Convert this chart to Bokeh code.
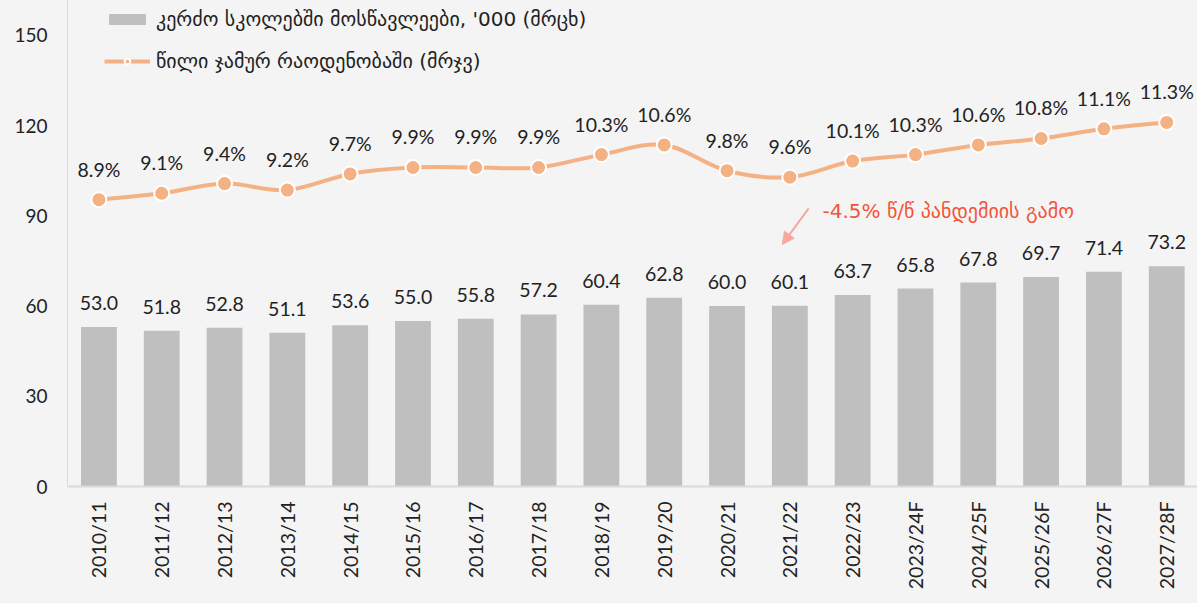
import math
from bokeh.plotting import figure
from bokeh.models import (ColumnDataSource, Range1d, FixedTicker, Legend, LegendItem,
                          Arrow, NormalHead, Label)
from bokeh.core.properties import value
from bokeh.embed import file_html
from bokeh.resources import INLINE

categories = ["2010/11", "2011/12", "2012/13", "2013/14", "2014/15", "2015/16", "2016/17",
              "2017/18", "2018/19", "2019/20", "2020/21", "2021/22", "2022/23", "2023/24F",
              "2024/25F", "2025/26F", "2026/27F", "2027/28F"]
students = [53.0, 51.8, 52.8, 51.1, 53.6, 55.0, 55.8, 57.2, 60.4, 62.8, 60.0, 60.1, 63.7,
            65.8, 67.8, 69.7, 71.4, 73.2]
share_pct = [8.9, 9.1, 9.4, 9.2, 9.7, 9.9, 9.9, 9.9, 10.3, 10.6, 9.8, 9.6, 10.1, 10.3,
             10.6, 10.8, 11.1, 11.3]
y_ticks = [0, 30, 60, 90, 120, 150]
bar_legend = "კერძო სკოლებში მოსწავლეები, '000 (მრცხ)"
line_legend = "წილი ჯამურ რაოდენობაში (მრჯვ)"
note_text = "-4.5% წ/წ პანდემიის გამო"

FONT_S = "Lato, DejaVu Sans"
GEO_S = "DejaVu Sans"
FONT = value(FONT_S)
BG = "#f4f4f4"
ORANGE = "#f4b183"
TXT = "#222222"

x = list(range(len(categories)))
src = ColumnDataSource(dict(
    x=x, students=students, share=share_pct,
    slab=[f"{v:.1f}" for v in students],
    plab=[f"{v:.1f}%" for v in share_pct],
))

Y_END = 161.6
PCT_END = Y_END / (150.0 / 14.0)

p = figure(width=1197, height=595, output_backend="svg", toolbar_location=None,
           x_range=Range1d(-0.5, 17.49), y_range=Range1d(0, Y_END),
           background_fill_color=BG, border_fill_color=BG, outline_line_color=None,
           min_border_left=67, min_border_right=0, min_border_top=0, min_border_bottom=109)
p.extra_y_ranges = {"pct": Range1d(0, PCT_END)}
p.xgrid.visible = False
p.ygrid.visible = False

# axes
p.yaxis.ticker = FixedTicker(ticks=y_ticks)
p.yaxis.major_tick_line_color = None
p.yaxis.minor_tick_line_color = None
p.yaxis.axis_line_color = "#d9d9d9"
p.yaxis.major_label_text_font = FONT_S
p.yaxis.major_label_text_font_size = "19px"
p.yaxis.major_label_text_color = TXT
p.yaxis.major_label_standoff = 14

p.xaxis.ticker = FixedTicker(ticks=x)
p.xaxis.major_label_overrides = {i: c for i, c in enumerate(categories)}
p.xaxis.major_label_orientation = math.pi / 2
p.xaxis.major_tick_line_color = None
p.xaxis.minor_tick_line_color = None
p.xaxis.axis_line_color = "#d9d9d9"
p.xaxis.axis_line_width = 2
p.xaxis.major_label_text_font = FONT_S
p.xaxis.major_label_text_font_size = "19.5px"
p.xaxis.major_label_text_color = TXT
p.xaxis.major_label_standoff = 9

# bars
bars = p.vbar(x="x", top="students", width=0.57, source=src,
              fill_color="#bfbfbf", line_color=None)
p.text(x="x", y="students", text="slab", source=src, text_align="center",
       text_baseline="bottom", y_offset=-17, text_font=FONT, text_font_size="19.5px",
       text_color=TXT)

# smooth line via bezier segments (Catmull-Rom control points from data)
n = len(x)
x0, y0, x1, y1, cx0, cy0, cx1, cy1 = [], [], [], [], [], [], [], []
for i in range(n - 1):
    pm = i - 1 if i > 0 else i
    pn = i + 2 if i + 2 < n else i + 1
    x0.append(x[i]); y0.append(share_pct[i])
    x1.append(x[i + 1]); y1.append(share_pct[i + 1])
    cx0.append(x[i] + (x[i + 1] - x[pm]) / 6.0)
    cy0.append(share_pct[i] + (share_pct[i + 1] - share_pct[pm]) / 6.0)
    cx1.append(x[i + 1] - (x[pn] - x[i]) / 6.0)
    cy1.append(share_pct[i + 1] - (share_pct[pn] - share_pct[i]) / 6.0)
bsrc = ColumnDataSource(dict(x0=x0, y0=y0, x1=x1, y1=y1, cx0=cx0, cy0=cy0, cx1=cx1, cy1=cy1))
curve = p.bezier(x0="x0", y0="y0", x1="x1", y1="y1", cx0="cx0", cy0="cy0", cx1="cx1",
                 cy1="cy1", source=bsrc, line_color=ORANGE, line_width=4,
                 y_range_name="pct")
dots = p.scatter(x="x", y="share", source=src, size=15, fill_color=ORANGE,
                 line_color="white", line_width=2, y_range_name="pct")
p.text(x="x", y="share", text="plab", source=src, text_align="center",
       text_baseline="bottom", y_offset=-19, text_font=FONT, text_font_size="19.5px",
       text_color=TXT, y_range_name="pct")

# annotation
p.add_layout(Arrow(end=NormalHead(size=12, fill_color="#f4a99c", line_color="#f4a99c"),
                   x_start=11.3, y_start=92.5, x_end=10.88, y_end=80.5,
                   line_color="#f4a99c", line_width=2))
p.add_layout(Label(x=11.52, y=91.6, text=note_text, text_font=GEO_S,
                   text_font_size="20px", text_color="#f2553a", text_baseline="middle"))

legend = Legend(items=[LegendItem(label=bar_legend, renderers=[bars]),
                       LegendItem(label=line_legend, renderers=[curve, dots])],
                location=(37, 413), orientation="vertical",
                background_fill_alpha=0, border_line_color=None,
                label_text_font=GEO_S, label_text_font_size="20px", label_text_color=TXT,
                glyph_width=46, glyph_height=14, spacing=18, padding=4, margin=0,
                label_standoff=6)
p.add_layout(legend)

html = file_html(p, INLINE)
html = html.replace("<body>", '<body style="background:#f4f4f4">')
open("out.html", "w").write(html)
